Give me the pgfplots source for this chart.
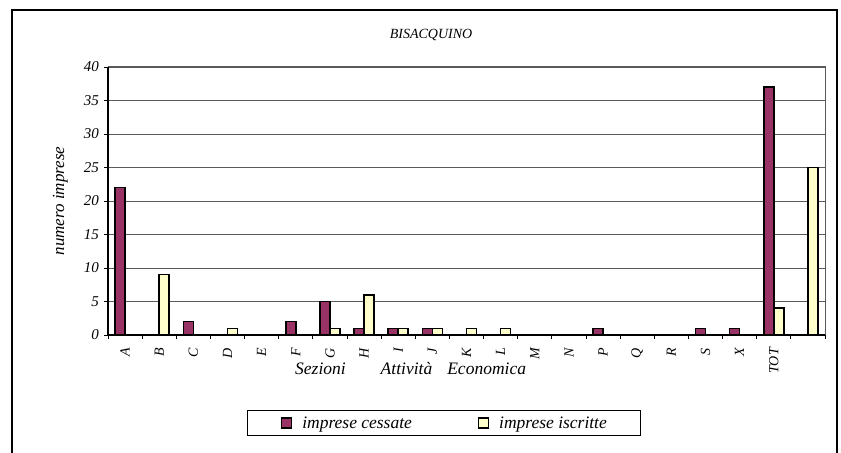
\documentclass[border=0pt]{standalone}
\usepackage{fontspec}
\setmainfont{Liberation Serif}
\usepackage{pgfplots}
\pgfplotsset{compat=1.18}

\definecolor{cessate}{RGB}{153,51,102}
\definecolor{iscritte}{RGB}{255,255,204}
\definecolor{griglia}{RGB}{90,90,90}

\begin{document}
\begin{tikzpicture}
\path[use as bounding box] (0,0) rectangle (841bp,453bp);
% outer frame of the chart
\draw[line width=1.4bp] (12bp,-5bp) -- (12bp,443bp) -- (837bp,443bp) -- (837bp,-5bp);
\node[anchor=base, font=\fontsize{14bp}{16bp}\selectfont\itshape] at (431bp,414bp) {BISACQUINO};

\begin{axis}[
    name=ax,
    at={(108bp,118bp)}, anchor=south west,
    scale only axis,
    width=717bp, height=268bp,
    ybar=0pt,
    bar width=0.293,
    xmin=-0.5, xmax=20.5,
    ymin=0, ymax=40,
    axis x line*=bottom,
    axis y line*=left,
    axis line style={line width=1.2bp, black},
    ytick={0,5,...,40},
    xtick={0,...,20},
    xticklabels={A,B,C,D,E,F,G,H,I,J,K,L,M,N,P,Q,R,S,X,TOT,{}},
    minor xtick={-0.5,0.5,...,20.5},
    major x tick style={draw=none},
    minor x tick style={black, line width=0.9bp},
    major y tick style={black, line width=0.9bp},
    tick align=outside,
    major tick length=4bp,
    minor tick length=4bp,
    ymajorgrids,
    major grid style={griglia, line width=1bp},
    /pgf/number format/assume math mode=true,
    yticklabel style={inner sep=0pt, xshift=-5bp, font=\fontsize{15bp}{17bp}\selectfont\itshape},
    xticklabel style={rotate=90, anchor=east, inner sep=0pt, xshift=-9bp,
        font=\fontsize{14bp}{16bp}\selectfont\itshape},
    ylabel={numero imprese},
    ylabel style={at={(axis description cs:-0.056,0.5)}, anchor=south, inner sep=0pt,
        font=\fontsize{17bp}{19bp}\selectfont\itshape},
    xlabel={Sezioni\hspace{35bp}Attività\hspace{15bp}Economica},
    xlabel style={at={(axis description cs:0.2608,-0.149)}, anchor=base west, inner sep=0pt,
        font=\fontsize{17.5bp}{19bp}\selectfont\itshape},
    legend columns=2,
    legend style={
        at={(axis description cs:0.4686,-0.3284)}, anchor=center,
        draw=black, line width=0.9bp,
        inner xsep=34bp, inner ysep=6bp,
        font=\fontsize{17.5bp}{19bp}\selectfont\itshape,
        nodes={inner sep=0pt},
        /tikz/every odd column/.append style={column sep=10bp},
        /tikz/every even column/.append style={column sep=66bp},
    },
    every axis plot post/.append style={
        legend image code/.code={\draw[##1, line width=1.2bp] (0bp,-5bp) rectangle (10bp,5bp);}
    },
]
% imprese cessate
\addplot[draw=black, line width=1.5bp, fill=cessate] coordinates {
    (0,22) (2,2) (5,2) (6,5) (7,1) (8,1) (9,1) (14,1) (17,1) (18,1) (19,37)
};
% imprese iscritte
\addplot[draw=black, line width=1.5bp, fill=iscritte] coordinates {
    (1,9) (3,1) (6,1) (7,6) (8,1) (9,1) (10,1) (11,1) (19,4) (20,25)
};
\legend{imprese cessate, imprese iscritte}
\end{axis}
\draw[griglia, line width=1bp] (ax.north west) -- (ax.north east) -- (ax.south east);
\end{tikzpicture}
\end{document}
